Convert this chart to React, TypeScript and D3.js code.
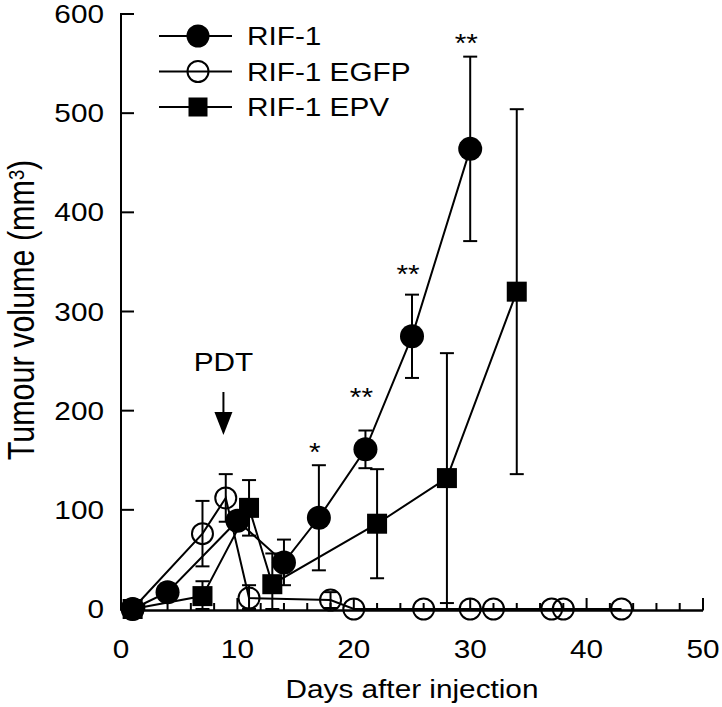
import React from "react";
import * as d3 from "d3";

// ---- data ----
const rifDays = [1, 4, 10, 14, 17, 21, 25, 30];
const rifVals = [0, 17, 89, 47, 92, 161, 275, 464];
const rifErr = [0, 8, 0, 23, 53, 19, 42, 93];

const egfpDays = [1, 7, 9, 11, 18, 20, 26, 30, 32, 37, 38, 43];
const egfpVals = [0, 76, 112, 11, 9, 0, 0, 0, 0, 0, 0, 0];
const egfpErr = [0, 33, 24, 13, 8, 0, 0, 0, 0, 0, 0, 0];

const epvDays = [1, 7, 11, 13, 22, 28, 34];
const epvVals = [0, 13, 102, 25, 86, 132, 320];
const epvErr = [0, 15, 28, 31, 55, 126, 184];

const seriesNames = ["RIF-1", "RIF-1 EGFP", "RIF-1 EPV"];

const sigDays = [17, 21, 25, 30];
const sigLabels = ["*", "**", "**", "**"];
const sigLevels = [163, 219, 343, 576];

const pdtDay = 8.8;
const pdtLabel = "PDT";

const xTicksMajor = [0, 10, 20, 30, 40, 50];
const yTicks = [0, 100, 200, 300, 400, 500, 600];
const xLabel = "Days after injection";

const FONT = "'Liberation Sans', Arial, Helvetica, sans-serif";
const SX = 1.19;

function T({ x, y, anchor = "start", size = 25, children, rotate = false }: any) {
  const tr = rotate
    ? `translate(${x},${y}) scale(${SX},1) rotate(-90)`
    : `translate(${x},${y}) scale(${SX},1)`;
  return (
    <text transform={tr} textAnchor={anchor} fontSize={size} fontFamily={FONT} fill="#000">
      {children}
    </text>
  );
}

export default function App() {
  const x = d3.scaleLinear().domain([0, 50]).range([121, 703]);
  const y = d3.scaleLinear().domain([0, 600]).range([609, 14]);
  const minorTicks = d3.range(0, 51, 2).filter((d) => d % 10 !== 0);

  const line = d3
    .line<[number, number]>()
    .x((d) => x(d[0]))
    .y((d) => y(d[1]));

  const mk = (days: number[], vals: number[]) => days.map((d, i) => [d, vals[i]] as [number, number]);

  const series = [
    { days: rifDays, vals: rifVals, err: rifErr, kind: "fcircle" },
    { days: egfpDays, vals: egfpVals, err: egfpErr, kind: "ocircle" },
    { days: epvDays, vals: epvVals, err: epvErr, kind: "square" },
  ];

  const marker = (kind: string, cx: number, cy: number, key: any, small = false) => {
    if (kind === "fcircle") return <circle key={key} cx={cx} cy={cy} r={small ? 11.5 : 12} fill="#000" />;
    if (kind === "ocircle")
      return <circle key={key} cx={cx} cy={cy} r={10.5} fill="none" stroke="#000" strokeWidth={2} />;
    const s = small ? 19 : 20;
    return <rect key={key} x={cx - s / 2} y={cy - s / 2} width={s} height={s} fill="#000" />;
  };

  const cap = 7;

  return (
    <svg
      width={722}
      height={707}
      style={{ position: "absolute", left: 0, top: 0, background: "#fff" }}
    >
      <rect x={0} y={0} width={722} height={707} fill="#fff" />
      {/* axes */}
      <line x1={x(0)} x2={x(0)} y1={y(600) - 1} y2={y(0) + 1.5} stroke="#000" strokeWidth={2} />
      <line x1={x(0)} x2={x(50)} y1={y(0) + 1.5} y2={y(0) + 1.5} stroke="#000" strokeWidth={2.5} />
      {yTicks.map((t) => (
        <g key={"yt" + t}>
          <line x1={x(0)} x2={x(0) + 13} y1={y(t)} y2={y(t)} stroke="#000" strokeWidth={2} />
          <T x={104} y={y(t) + 9} anchor="end">
            {t}
          </T>
        </g>
      ))}
      {xTicksMajor.map((t) => (
        <g key={"xt" + t}>
          <line x1={x(t)} x2={x(t)} y1={y(0) + 1.5} y2={y(0) - 11} stroke="#000" strokeWidth={2} />
          <T x={x(t)} y={658} anchor="middle">
            {t}
          </T>
        </g>
      ))}
      {minorTicks.map((t) => (
        <line key={"mt" + t} x1={x(t)} x2={x(t)} y1={y(0) + 1.5} y2={y(0) - 6} stroke="#000" strokeWidth={2} />
      ))}
      <T x={x(25)} y={698} anchor="middle">
        {xLabel}
      </T>
      <T x={34} y={310} anchor="middle" size={30.5} rotate>
        Tumour volume (mm
        <tspan fontSize="0.6em" dy={-8}>
          3
        </tspan>
        <tspan dy={8}>)</tspan>
      </T>

      {/* series */}
      {series.map((s, si) => (
        <g key={"s" + si}>
          <path d={line(mk(s.days, s.vals)) || ""} fill="none" stroke="#000" strokeWidth={2} />
          {s.days.map((d, i) =>
            s.err[i] > 0 ? (
              <g key={"e" + i}>
                <line
                  x1={x(d)}
                  x2={x(d)}
                  y1={y(s.vals[i] + s.err[i])}
                  y2={y(Math.max(0, s.vals[i] - s.err[i]))}
                  stroke="#000"
                  strokeWidth={2}
                />
                <line
                  x1={x(d) - cap}
                  x2={x(d) + cap}
                  y1={y(s.vals[i] + s.err[i])}
                  y2={y(s.vals[i] + s.err[i])}
                  stroke="#000"
                  strokeWidth={2}
                />
                <line
                  x1={x(d) - cap}
                  x2={x(d) + cap}
                  y1={y(Math.max(0, s.vals[i] - s.err[i]))}
                  y2={y(Math.max(0, s.vals[i] - s.err[i]))}
                  stroke="#000"
                  strokeWidth={2}
                />
              </g>
            ) : null
          )}
          {s.days.map((d, i) => marker(s.kind, x(d), y(s.vals[i]), "m" + i))}
        </g>
      ))}

      {/* significance */}
      {sigDays.map((d, i) => (
        <T key={"sig" + i} x={x(d) - 4} y={y(sigLevels[i]) + 14} anchor="middle">
          {sigLabels[i]}
        </T>
      ))}

      {/* PDT */}
      <T x={x(pdtDay)} y={371} anchor="middle">
        {pdtLabel}
      </T>
      <line x1={x(pdtDay)} x2={x(pdtDay)} y1={392} y2={414} stroke="#000" strokeWidth={2} />
      <path
        d={`M${x(pdtDay) - 9},412 L${x(pdtDay) + 9},412 L${x(pdtDay)},435 Z`}
        fill="#000"
      />

      {/* legend */}
      {seriesNames.map((n, i) => {
        const ly = 36 + i * 35.5;
        return (
          <g key={"lg" + i}>
            <line x1={159} x2={232} y1={ly} y2={ly} stroke="#000" strokeWidth={2} />
            {marker(series[i].kind, 198, ly, "lm" + i, true)}
            <T x={247} y={ly + 9}>
              {n}
            </T>
          </g>
        );
      })}
    </svg>
  );
}
